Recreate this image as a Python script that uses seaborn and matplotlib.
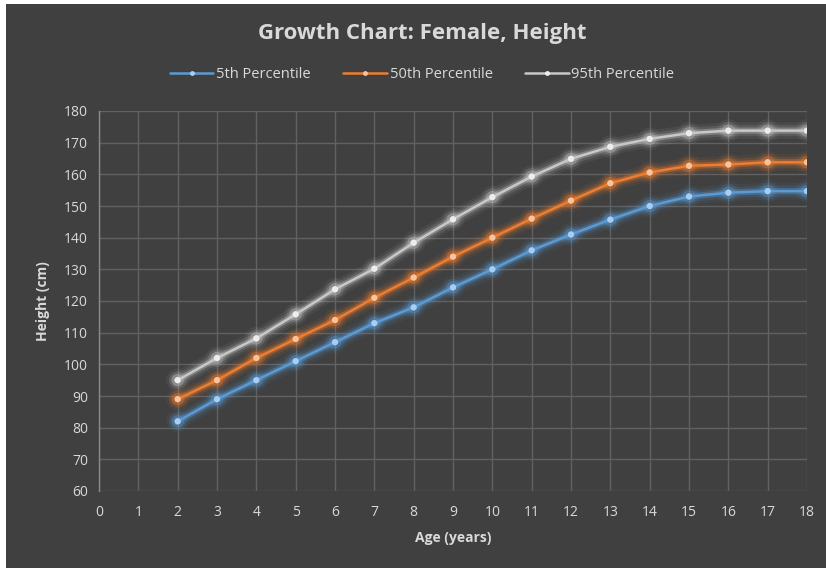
import matplotlib
matplotlib.use("Agg")
import matplotlib.pyplot as plt
import matplotlib.patheffects as pe
import seaborn as sns
import pandas as pd

ages = [2, 3, 4, 5, 6, 7, 8, 9, 10, 11, 12, 13, 14, 15, 16, 17, 18]
p5 = [82, 89, 95, 101, 107, 113, 118, 124.3, 130, 136, 141, 145.7, 150, 153, 154.2, 154.7, 154.7]
p50 = [89, 95, 102, 108, 114, 121, 127.4, 134, 140, 146, 151.7, 157.2, 160.6, 162.7, 163.1, 163.8, 163.8]
p95 = [95, 102, 108.2, 115.8, 123.7, 130.2, 138.4, 145.8, 152.8, 159.3, 164.9, 168.7, 171.2, 173, 173.8, 173.8, 173.8]
series_names = ["5th Percentile", "50th Percentile", "95th Percentile"]
series_colors = ["#5B9BD5", "#ED7D31", "#C8C8C8"]
marker_faces = ["#A9CDF0", "#F8C49E", "#EDEDED"]

df = pd.concat([
    pd.DataFrame({"Age": ages, "Height": vals, "Series": name})
    for name, vals in zip(series_names, [p5, p50, p95])
])

bg = "#404040"
txt = "#D9D9D9"
grid = "#616161"

sns.set_theme(style="dark")
plt.rcParams["font.family"] = ["Open Sans", "DejaVu Sans"]

fig = plt.figure(figsize=(8.26, 5.68), dpi=100, facecolor="white")
# dark chart panel with a thin white margin on the top and left
fig.patches.append(plt.Rectangle((6 / 826, 0), 1, 1 - 4 / 568, transform=fig.transFigure,
                                 facecolor=bg, edgecolor="none", zorder=-10))

ax = fig.add_axes([99 / 826, 1 - 491 / 568, (807 - 99) / 826, (491 - 111) / 568])
ax.set_facecolor(bg)

sns.lineplot(data=df, x="Age", y="Height", hue="Series", palette=series_colors,
             hue_order=series_names, ax=ax, linewidth=1.8, marker="o", markersize=4.5,
             markeredgewidth=0, legend=False, zorder=5)

for line, col, face in zip(ax.get_lines(), series_colors, marker_faces):
    line.set_markerfacecolor(face)
    line.set_path_effects([
        pe.Stroke(linewidth=12, foreground=col, alpha=0.07),
        pe.Stroke(linewidth=8, foreground=col, alpha=0.14),
        pe.Stroke(linewidth=4.5, foreground=col, alpha=0.35),
        pe.Normal(),
    ])

ax.set_xlim(0, 18)
ax.set_ylim(60, 180)
ax.set_xticks(range(0, 19))
ax.set_yticks(range(60, 181, 10))
ax.grid(True, color=grid, linewidth=1.0)
ax.set_axisbelow(True)
for s in ["top", "right", "bottom"]:
    ax.spines[s].set_visible(False)
ax.spines["left"].set_color("#8A8A8A")
ax.spines["left"].set_linewidth(1.0)
ax.tick_params(axis="both", colors=txt, labelsize=10, length=0)
ax.tick_params(axis="x", pad=10)
ax.tick_params(axis="y", pad=8)

ax.set_xlabel("Age (years)", color=txt, fontsize=10, fontweight="bold", labelpad=8)
ax.set_ylabel("Height (cm)", color=txt, fontsize=10, fontweight="bold", labelpad=10)

fig.text(0.511, 1 - 34 / 568, "Growth Chart: Female, Height", ha="center", va="center",
         color=txt, fontsize=16, fontweight="bold")

handles = [plt.Line2D([], [], color=c, marker="o", markersize=3.5, markerfacecolor=f,
                      markeredgewidth=0, linewidth=1.8) for c, f in zip(series_colors, marker_faces)]
fig.legend(handles, series_names, loc="center", bbox_to_anchor=(0.511, 1 - 75 / 568), ncol=3,
           frameon=False, fontsize=10.5, labelcolor=txt, handlelength=3.0, handletextpad=0.2,
           columnspacing=2.2)

fig.savefig("out.png", dpi=100, facecolor="white")
